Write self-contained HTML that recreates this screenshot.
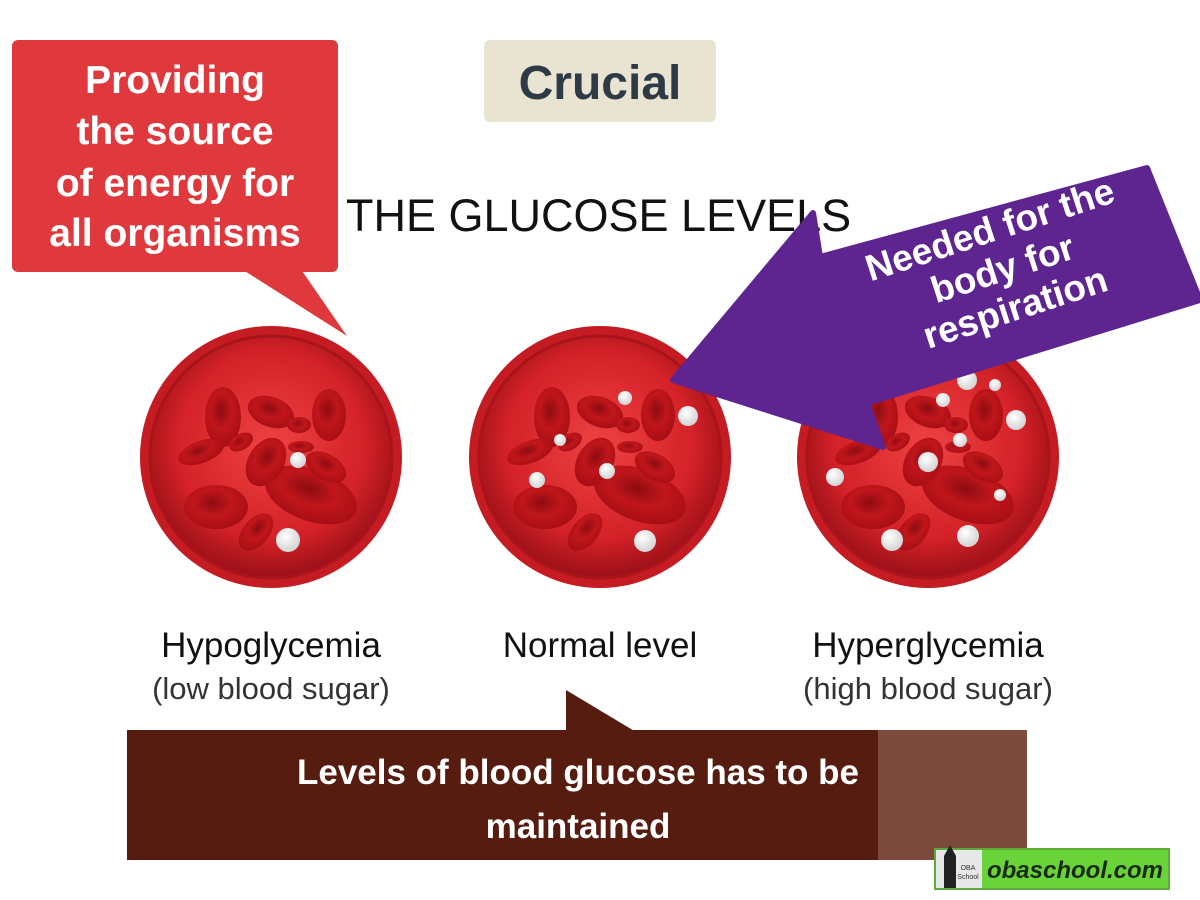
<!DOCTYPE html>
<html><head><meta charset="utf-8"><style>
body{margin:0;width:1200px;height:900px;background:#fff;overflow:hidden}
svg{display:block}
</style></head><body>
<svg width="1200" height="900" viewBox="0 0 1200 900" xmlns="http://www.w3.org/2000/svg">
<defs>
<radialGradient id="bg" cx="50%" cy="45%" r="55%">
<stop offset="0" stop-color="#ee4242"/><stop offset="0.7" stop-color="#d42228"/><stop offset="1" stop-color="#9c1018"/>
</radialGradient>
<radialGradient id="cell" cx="45%" cy="40%" r="60%">
<stop offset="0" stop-color="#8e0c12"/><stop offset="0.5" stop-color="#c0161b"/><stop offset="1" stop-color="#a80f15"/>
</radialGradient>
<radialGradient id="dot" cx="40%" cy="35%" r="60%">
<stop offset="0" stop-color="#fff"/><stop offset="1" stop-color="#d6d6d6"/>
</radialGradient>
<g id="cells">
<circle r="131" fill="#c41c22"/>
<circle r="121" fill="url(#bg)" stroke="#a8141a" stroke-width="3"/>
<ellipse cx="0" cy="-45" rx="24" ry="15" transform="rotate(20 0 -45)" fill="url(#cell)"/>
<ellipse cx="-48" cy="-40" rx="18" ry="30" fill="url(#cell)"/>
<ellipse cx="58" cy="-42" rx="17" ry="26" fill="url(#cell)"/>
<ellipse cx="-70" cy="-5" rx="24" ry="11" transform="rotate(-20 -70 -5)" fill="url(#cell)"/>
<ellipse cx="-55" cy="50" rx="32" ry="22" fill="url(#cell)"/>
<ellipse cx="40" cy="38" rx="48" ry="26" transform="rotate(20 40 38)" fill="url(#cell)"/>
<ellipse cx="-5" cy="5" rx="18" ry="26" transform="rotate(30 -5 5)" fill="url(#cell)"/>
<ellipse cx="55" cy="10" rx="22" ry="13" transform="rotate(30 55 10)" fill="url(#cell)"/>
<ellipse cx="-15" cy="75" rx="13" ry="22" transform="rotate(40 -15 75)" fill="url(#cell)"/>
<ellipse cx="30" cy="-10" rx="13" ry="6" fill="url(#cell)"/>
<ellipse cx="28" cy="-32" rx="12" ry="8" fill="url(#cell)"/>
<ellipse cx="-30" cy="-15" rx="13" ry="8" transform="rotate(-30 -30 -15)" fill="url(#cell)"/>
</g>
</defs>

<rect x="12" y="40" width="326" height="232" rx="6" fill="#e0393d"/>
<polygon points="240,268 300,268 347,336" fill="#e0393d"/>
<g font-family="Liberation Sans, sans-serif" font-weight="bold" font-size="39" fill="#fff" text-anchor="middle">
<text x="175" y="93">Providing</text>
<text x="175" y="144">the source</text>
<text x="175" y="196">of energy for</text>
<text x="175" y="246">all organisms</text>
</g>

<rect x="484" y="40" width="232" height="82" rx="6" fill="#e9e3d2"/>
<text x="600" y="99" font-family="Liberation Sans, sans-serif" font-weight="bold" font-size="48" fill="#2e3a45" text-anchor="middle">Crucial</text>

<text x="346" y="231" font-family="Liberation Sans, sans-serif" font-size="45" fill="#111">THE GLUCOSE LEVELS</text>

<use href="#cells" x="271" y="457"/>
<use href="#cells" x="600" y="457"/>
<use href="#cells" x="928" y="457"/>
<g fill="url(#dot)">
<circle cx="298" cy="460" r="8"/><circle cx="288" cy="540" r="12"/>
<circle cx="625" cy="398" r="7"/><circle cx="688" cy="416" r="10"/><circle cx="537" cy="480" r="8"/><circle cx="607" cy="471" r="8"/><circle cx="645" cy="541" r="11"/><circle cx="560" cy="440" r="6"/>
<circle cx="967" cy="380" r="10"/><circle cx="943" cy="400" r="7"/><circle cx="1016" cy="420" r="10"/><circle cx="960" cy="440" r="7"/><circle cx="928" cy="462" r="10"/><circle cx="835" cy="477" r="9"/><circle cx="892" cy="540" r="11"/><circle cx="968" cy="536" r="11"/><circle cx="995" cy="385" r="6"/><circle cx="1000" cy="495" r="6"/>
</g>

<polygon points="673,380 813,213 820,257 1147,168 1200,300 867,403 883,447" fill="#5e2490" stroke="#5e2490" stroke-width="6" stroke-linejoin="round"/>
<g transform="translate(1003,270) rotate(-18)" font-family="Liberation Sans, sans-serif" font-weight="bold" font-size="37" fill="#fff" text-anchor="middle">
<text x="0" y="-30">Needed for the</text>
<text x="0" y="11">body for</text>
<text x="0" y="52">respiration</text>
</g>

<g font-family="Liberation Sans, sans-serif" text-anchor="middle">
<text x="271" y="657" font-size="35" fill="#111">Hypoglycemia</text>
<text x="271" y="699" font-size="31" fill="#333">(low blood sugar)</text>
<text x="600" y="657" font-size="35" fill="#111">Normal level</text>
<text x="928" y="657" font-size="35" fill="#111">Hyperglycemia</text>
<text x="928" y="699" font-size="31" fill="#333">(high blood sugar)</text>
</g>

<rect x="127" y="730" width="752" height="130" fill="#561c0f"/>
<rect x="878" y="730" width="149" height="130" fill="#7b4a3b"/>
<polygon points="566,732 566,690 636,732" fill="#561c0f"/>
<g font-family="Liberation Sans, sans-serif" font-weight="bold" font-size="35" fill="#fff" text-anchor="middle">
<text x="578" y="784">Levels of blood glucose has to be</text>
<text x="578" y="838">maintained</text>
</g>

<rect x="934" y="848" width="236" height="42" fill="#5fa83a"/>
<rect x="936" y="850" width="46" height="38" fill="#e8e8e8"/>
<rect x="944" y="856" width="12" height="32" fill="#222"/>
<polygon points="944,856 950,845 956,856" fill="#222"/>
<text x="968" y="870" font-family="Liberation Sans, sans-serif" font-size="7" fill="#333" text-anchor="middle">OBA</text>
<text x="968" y="879" font-family="Liberation Sans, sans-serif" font-size="7" fill="#333" text-anchor="middle">School</text>
<rect x="982" y="850" width="186" height="38" fill="#6ad33a"/>
<text x="1075" y="878" font-family="Liberation Sans, sans-serif" font-weight="bold" font-style="italic" font-size="24" fill="#1a2a14" text-anchor="middle">obaschool.com</text>
</svg>
</body></html>
